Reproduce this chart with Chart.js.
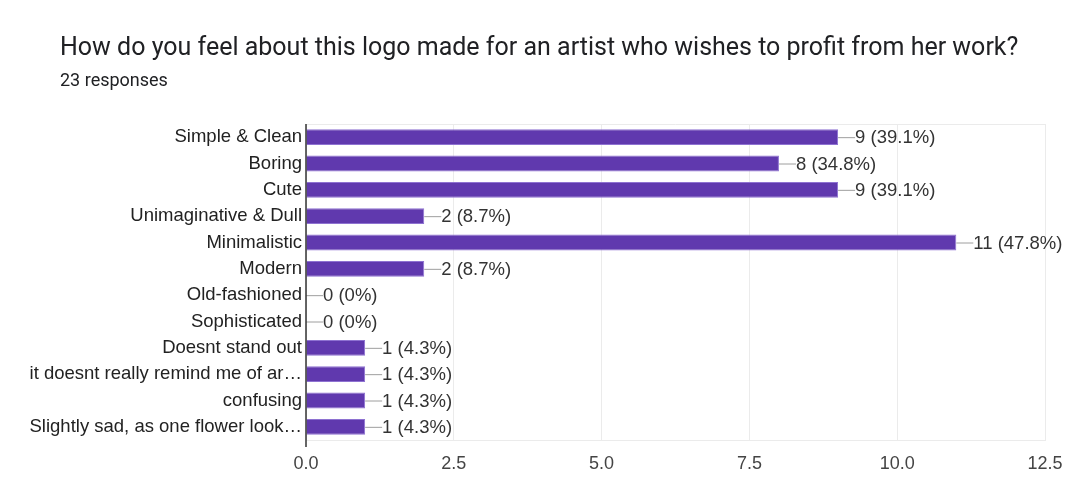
<!DOCTYPE html>
<html>
<head>
<meta charset="utf-8">
<script src="https://cdn.jsdelivr.net/npm/chart.js@4"></script>
<style>
  html, body { margin: 0; padding: 0; background: #fff; }
  #wrap { position: relative; width: 1088px; height: 488px; }
  #title { position: absolute; left: 60px; top: 32px; font: 25px Roboto, 'Noto Sans', sans-serif; color: #202124; white-space: nowrap; }
  #subtitle { position: absolute; left: 60px; top: 69px; font: 18px Roboto, 'Noto Sans', sans-serif; color: #202124; }
  canvas { position: absolute; left: 0; top: 0; }
</style>
</head>
<body>
<div id="wrap">
  <canvas id="chart" width="1088" height="488"></canvas>
  <div id="title">How do you feel about this logo made for an artist who wishes to profit from her work?</div>
  <div id="subtitle">23 responses</div>
</div>
<script>
const categories = [
  'Simple & Clean',
  'Boring',
  'Cute',
  'Unimaginative & Dull',
  'Minimalistic',
  'Modern',
  'Old-fashioned',
  'Sophisticated',
  'Doesnt stand out',
  'it doesnt really remind me of ar\u2026',
  'confusing',
  'Slightly sad, as one flower look\u2026',
];
const counts = [9, 8, 9, 2, 11, 2, 0, 0, 1, 1, 1, 1];
const percentLabels = ['39.1%', '34.8%', '39.1%', '8.7%', '47.8%', '8.7%', '0%', '0%', '4.3%', '4.3%', '4.3%', '4.3%'];
const xTicks = [0, 2.5, 5, 7.5, 10, 12.5];

const fontFamily = "'Liberation Sans', Arial, sans-serif";

// leader line + "n (p%)" text next to each bar, plus top border and zero axis
const valueLabels = {
  id: 'valueLabels',
  beforeDatasetsDraw(chart) {
    const { ctx, chartArea } = chart;
    ctx.save();
    ctx.strokeStyle = '#ebebeb';
    ctx.lineWidth = 1;
    ctx.beginPath();
    ctx.moveTo(chartArea.left, chartArea.top + 0.5);
    ctx.lineTo(chartArea.right, chartArea.top + 0.5);
    ctx.stroke();
    ctx.restore();
  },
  afterDatasetsDraw(chart) {
    const { ctx, chartArea } = chart;
    const meta = chart.getDatasetMeta(0);
    ctx.save();
    ctx.font = `18.5px ${fontFamily}`;
    ctx.textBaseline = 'middle';
    meta.data.forEach((bar, i) => {
      const x = bar.x;
      const y = bar.y;
      ctx.strokeStyle = '#9e9e9e';
      ctx.lineWidth = 1;
      ctx.beginPath();
      ctx.moveTo(x, y + 0.5);
      ctx.lineTo(x + 17, y + 0.5);
      ctx.stroke();
      ctx.fillStyle = '#333333';
      ctx.fillText(`${counts[i]} (${percentLabels[i]})`, x + 17, y + 1);
    });
    ctx.strokeStyle = '#333333';
    ctx.lineWidth = 1.5;
    ctx.beginPath();
    ctx.moveTo(chartArea.left, chartArea.top);
    ctx.lineTo(chartArea.left, chartArea.bottom + 7);
    ctx.stroke();
    ctx.restore();
  },
};

new Chart(document.getElementById('chart').getContext('2d'), {
  type: 'bar',
  data: {
    labels: categories,
    datasets: [
      {
        data: counts,
        backgroundColor: '#6039ae',
        borderColor: '#8e72d1',
        borderWidth: 1,
        borderSkipped: 'left',
        barPercentage: 0.6,
        categoryPercentage: 1,
      },
    ],
  },
  options: {
    indexAxis: 'y',
    responsive: false,
    animation: false,
    layout: { padding: { top: 124, right: 43, bottom: 0, left: 0 } },
    plugins: {
      legend: { display: false },
      tooltip: { enabled: false },
    },
    scales: {
      x: {
        min: 0,
        max: 12.5,
        afterBuildTicks(scale) {
          scale.ticks = xTicks.map((value) => ({ value }));
        },
        afterFit(scale) {
          scale.height = 48;
        },
        grid: { color: '#ebebeb', drawTicks: false },
        border: { display: true, color: '#ebebeb' },
        ticks: {
          padding: 13,
          color: '#444444',
          font: { family: fontFamily, size: 18 },
          callback: (value) => Number(value).toFixed(1),
        },
      },
      y: {
        afterFit(scale) {
          scale.width = 306;
        },
        grid: { display: false, drawTicks: false },
        border: { display: false },
        ticks: {
          padding: 4,
          autoSkip: false,
          color: '#222222',
          font: { family: fontFamily, size: 18.5 },
        },
      },
    },
  },
  plugins: [valueLabels],
});
</script>
</body>
</html>
